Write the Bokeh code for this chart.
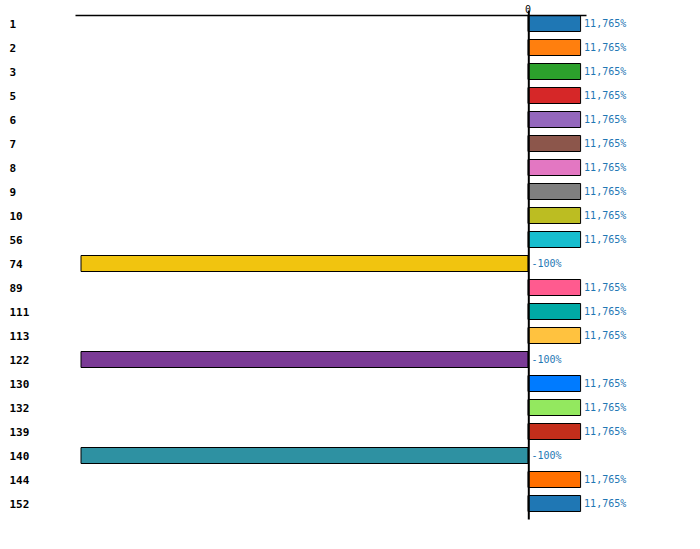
from bokeh.plotting import figure
from bokeh.models import Range1d, ColumnDataSource
from bokeh.core.properties import value
from bokeh.embed import file_html
from bokeh.resources import INLINE

categories = ["1", "2", "3", "5", "6", "7", "8", "9", "10", "56", "74", "89",
              "111", "113", "122", "130", "132", "139", "140", "144", "152"]
values = [11.765, 11.765, 11.765, 11.765, 11.765, 11.765, 11.765, 11.765, 11.765, 11.765,
          -100, 11.765, 11.765, 11.765, -100, 11.765, 11.765, 11.765, -100, 11.765, 11.765]
value_labels = ["11,765%" if v > 0 else "-100%" for v in values]
colors = ["#1f77b4", "#ff7f0e", "#2ca02c", "#d62728", "#9467bd", "#8c564b", "#e377c2",
          "#7f7f7f", "#bcbd22", "#17becf", "#f1c40f", "#ff5b8f", "#00aaa5", "#ffc23f",
          "#7b3b96", "#007bff", "#93e85f", "#c42e1b", "#2e91a2", "#ff7000", "#1f77b4"]

W, H = 684, 533
scale = 4.47          # px per unit
zero_px = 527.5       # canvas x of zero
row0_px = 23          # canvas y of first row center
row_px = 24

x_start = -zero_px / scale
x_end = (W - zero_px) / scale
y_top = -row0_px / row_px
y_bot = (H - row0_px) / row_px


def yp(px):
    return (px - row0_px) / row_px


def xp(px):
    return (px - zero_px) / scale


p = figure(width=W, height=H, output_backend="svg", toolbar_location=None,
           x_range=Range1d(x_start, x_end), y_range=Range1d(y_bot, y_top),
           min_border=0, outline_line_color=None)
p.axis.visible = False
p.grid.visible = False
p.background_fill_color = "white"
p.border_fill_color = "white"

idx = list(range(len(categories)))
src = ColumnDataSource(dict(y=idx, v=values, c=colors, cat=categories, lab=value_labels,
                            lx=[max(v, 0) + 3.5 / scale for v in values],
                            cx=[xp(9)] * len(idx)))

p.hbar(y="y", left=0, right="v", height=16 / row_px, fill_color="c",
       line_color="black", line_width=1, source=src)

# top axis line and zero line
p.segment(x0=[xp(75)], x1=[xp(586)], y0=[yp(15)], y1=[yp(15)],
          line_color="black", line_width=1.3)
p.segment(x0=[xp(528.3)], x1=[xp(528.3)], y0=[yp(10)], y1=[yp(519)],
          line_color="black", line_width=2)

p.text(x=[xp(527.5)], y=[yp(8)], text=["0"], text_font=value("DejaVu Sans Mono"),
       text_font_size="10px", text_align="center", text_baseline="alphabetic",
       text_color="black")

p.text(x="cx", y="y", text="cat", source=src, text_font=value("DejaVu Sans Mono"),
       text_font_size="11px", text_font_style="bold", text_align="left",
       text_baseline="middle", text_color="black")

p.text(x="lx", y="y", text="lab", source=src, text_font=value("DejaVu Sans Mono"),
       text_font_size="10px", text_align="left", text_baseline="middle",
       text_color="#1f77b4")

open("out.html", "w").write(file_html(p, INLINE))
